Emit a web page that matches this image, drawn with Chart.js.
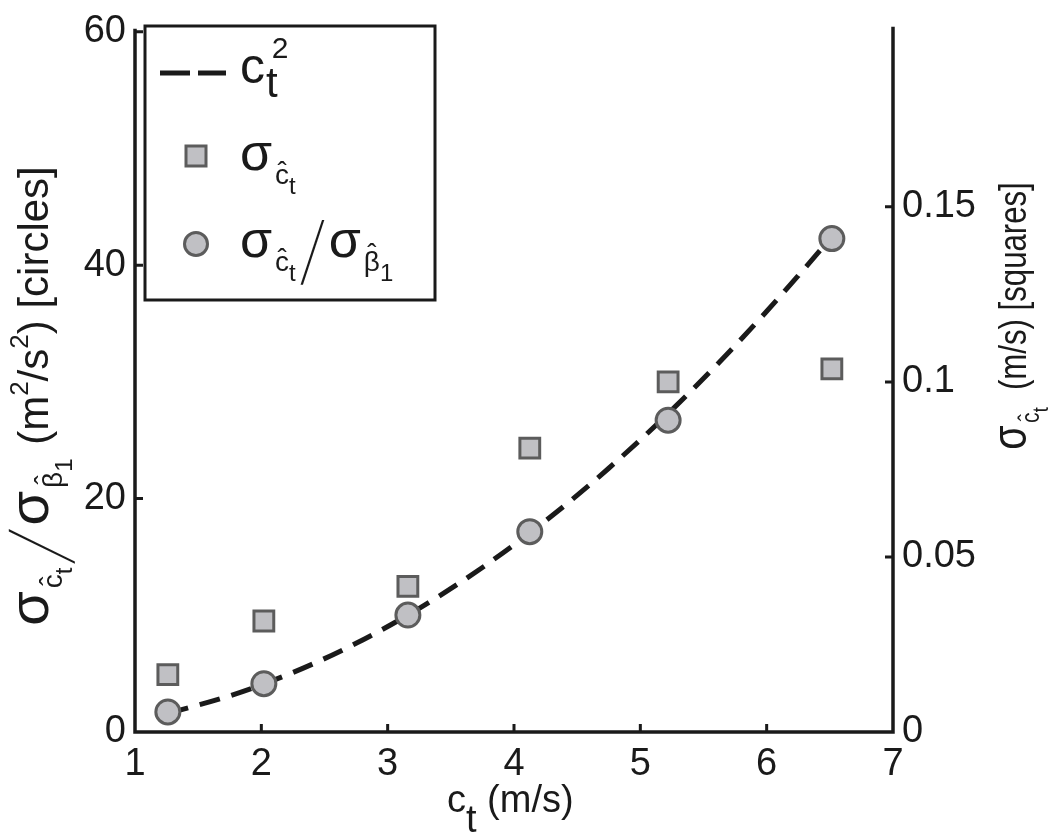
<!DOCTYPE html>
<html>
<head>
<meta charset="utf-8">
<script src="https://cdn.jsdelivr.net/npm/chart.js@4/dist/chart.umd.min.js"></script>
<style>
  html, body { margin: 0; padding: 0; background: #fff; }
  #c { display: block; }
</style>
</head>
<body>
<canvas id="c" width="1050" height="833"></canvas>
<script>
// measured points (c_t in m/s)
const ctVals = [1.26, 2.02, 3.16, 4.125, 5.22, 6.516];
const ratioVals = [1.72, 4.14, 10.02, 17.17, 26.72, 42.28];   // circles, left axis
const sigmaVals = [0.0164, 0.0317, 0.0416, 0.0811, 0.1000, 0.1037]; // squares, right axis

// dashed c_t^2 curve
const curveX = [1.26, 1.75, 2.25, 2.75, 3.25, 3.75, 4.25, 4.75, 5.25, 5.75, 6.25, 6.52];
const curveY = [1.6, 3.1, 5.1, 7.6, 10.6, 14.1, 18.1, 22.6, 27.6, 33.1, 39.1, 42.5];

const xTicks = [1, 2, 3, 4, 5, 6, 7];
const leftTicks = [0, 20, 40, 60];
const rightTicks = [0, 0.05, 0.1, 0.15];
const rightTickLabels = ['0', '0.05', '0.1', '0.15'];

const INK = '#1a1a1a';
const MARK_FILL = '#c0c0c4';
const MARK_EDGE = '#5c5c5c';
const FAM = '"Liberation Sans", Arial, Helvetica, sans-serif';

function pts(xs, ys) { return xs.map((x, i) => ({ x: x, y: ys[i] })); }

// text with sub/superscripts and hats
function fontOf(s) { return s.size + 'px ' + FAM; }
function segWidth(ctx, s) {
  if (s.adv) return s.adv;
  ctx.font = fontOf(s);
  return ctx.measureText(s.t).width;
}
function richWidth(ctx, segs) {
  let w = 0;
  segs.forEach(s => { w += (s.dx || 0) + segWidth(ctx, s); });
  return w;
}
function drawRich(ctx, segs, x, y) {
  ctx.textBaseline = 'alphabetic';
  ctx.textAlign = 'left';
  ctx.fillStyle = INK;
  let cx = x;
  segs.forEach(s => {
    ctx.font = fontOf(s);
    cx += s.dx || 0;
    const w = segWidth(ctx, s);
    const by = y + (s.dy || 0);
    if (s.sy) {
      // tall thin slash
      ctx.save();
      ctx.translate(cx, by);
      ctx.transform(1, 0, s.shear || 0, s.sy, 0, 0);
      ctx.fillText(s.t, 0, 0);
      ctx.restore();
    } else {
      ctx.fillText(s.t, cx, by);
    }
    if (s.hat) {
      ctx.textAlign = 'center';
      ctx.fillText('\u02C6', cx + w / 2, by - s.size * (s.hatUp || 0.12));
      ctx.textAlign = 'left';
    }
    cx += w;
  });
}
function sigmaHat(big, sub, subsub, letter, idx) {
  return [
    { t: '\u03C3', size: big },
    { t: letter, size: sub, dy: sub * 0.5, dx: 3, hat: true, hatUp: letter === '\u03B2' ? 0.3 : 0.1 },
    { t: idx, size: subsub, dy: sub * 0.85 }
  ];
}

const axesPlugin = {
  id: 'axesPlugin',
  beforeDatasetsDraw(chart) {
    const ctx = chart.ctx;
    const a = chart.chartArea;
    const sx = chart.scales.x, yl = chart.scales.y, yr = chart.scales.y2;
    ctx.save();
    ctx.strokeStyle = INK;
    ctx.lineWidth = 3.5;
    ctx.lineCap = 'butt';
    ctx.beginPath();
    ctx.moveTo(a.left, a.top - 3);
    ctx.lineTo(a.left, a.bottom);
    ctx.lineTo(a.right, a.bottom);
    ctx.lineTo(a.right, a.top - 5);
    ctx.stroke();
    const tl = 8;
    ctx.lineWidth = 3;
    ctx.beginPath();
    xTicks.slice(1, -1).forEach(v => {
      const px = sx.getPixelForValue(v);
      ctx.moveTo(px, a.bottom); ctx.lineTo(px, a.bottom - tl);
    });
    leftTicks.slice(1).forEach(v => {
      const py = yl.getPixelForValue(v);
      ctx.moveTo(a.left, py); ctx.lineTo(a.left + tl, py);
    });
    rightTicks.slice(1).forEach(v => {
      const py = yr.getPixelForValue(v);
      ctx.moveTo(a.right, py); ctx.lineTo(a.right - tl, py);
    });
    ctx.stroke();
    ctx.restore();
  },
  afterDraw(chart) {
    const ctx = chart.ctx;
    ctx.save();

    // legend box
    ctx.strokeStyle = INK;
    ctx.lineWidth = 3;
    ctx.strokeRect(145, 26, 290, 274);

    ctx.lineWidth = 5;
    ctx.setLineDash([30, 8]);
    ctx.beginPath();
    ctx.moveTo(160, 73); ctx.lineTo(226, 73);
    ctx.stroke();
    ctx.setLineDash([]);

    ctx.fillStyle = MARK_FILL;
    ctx.strokeStyle = MARK_EDGE;
    ctx.lineWidth = 3;
    ctx.fillRect(186, 146, 20, 20);
    ctx.strokeRect(186, 146, 20, 20);
    ctx.beginPath();
    ctx.arc(196, 244, 11.5, 0, Math.PI * 2);
    ctx.fill(); ctx.stroke();

    drawRich(ctx, [
      { t: 'c', size: 50 },
      { t: 't', size: 42, dy: 14, dx: 1 },
      { t: '2', size: 30, dy: -25, dx: -6 }
    ], 240, 83);
    drawRich(ctx, sigmaHat(52, 28, 24, 'c', 't'), 240, 170);
    drawRich(ctx, sigmaHat(52, 28, 24, 'c', 't').concat(
      [{ t: '/', size: 30, sy: 2.95, shear: -0.7, adv: 28, dy: 27, dx: 5 }],
      sigmaHat(52, 28, 24, '\u03B2', '1')
    ), 240, 257);

    // x title
    drawRich(ctx, [
      { t: 'c', size: 38 },
      { t: 't', size: 38, dy: 20 },
      { t: ' (m/s)', size: 38 }
    ], 447, 812);

    // left title
    const leftSegs = sigmaHat(56, 28, 24, 'c', 't').concat(
      [{ t: '/', size: 30, sy: 3.0, shear: -1.2, adv: 38, dy: 26, dx: 4 }],
      sigmaHat(56, 28, 24, '\u03B2', '1'),
      [
        { t: ' (m', size: 42, dx: 2 },
        { t: '2', size: 26, dy: -20 },
        { t: '/s', size: 42 },
        { t: '2', size: 26, dy: -20 },
        { t: ') [circles]', size: 42 }
      ]
    );
    let w = richWidth(ctx, leftSegs);
    ctx.save();
    ctx.translate(48, 396);
    ctx.rotate(-Math.PI / 2);
    drawRich(ctx, leftSegs, -w / 2, 0);
    ctx.restore();

    // right title
    const rightSegs = [
      { t: '\u03C3', size: 48 },
      { t: 'c', size: 26, dy: 13, dx: 3, hat: true, hatUp: 0.1 },
      { t: 't', size: 22, dy: 22 },
      { t: '  (m/s) [squares]', size: 38 }
    ];
    w = richWidth(ctx, rightSegs);
    ctx.save();
    ctx.translate(1026, 316);
    ctx.rotate(-Math.PI / 2);
    ctx.scale(0.82, 1);
    drawRich(ctx, rightSegs, -w / 2, 0);
    ctx.restore();

    ctx.restore();
  }
};

const tickFont = { family: FAM, size: 38 };

new Chart(document.getElementById('c'), {
  type: 'scatter',
  data: {
    datasets: [
      {
        label: 'c_t^2',
        type: 'line',
        data: pts(curveX, curveY),
        yAxisID: 'y',
        borderColor: INK,
        borderWidth: 5,
        borderDash: [21, 12],
        pointRadius: 0,
        fill: false,
        cubicInterpolationMode: 'monotone',
        order: 3
      },
      {
        label: 'sigma_ct',
        data: pts(ctVals, sigmaVals),
        yAxisID: 'y2',
        pointStyle: 'rect',
        pointRadius: 14,
        borderWidth: 3,
        backgroundColor: MARK_FILL,
        borderColor: MARK_EDGE,
        order: 2
      },
      {
        label: 'sigma_ct / sigma_b1',
        data: pts(ctVals, ratioVals),
        yAxisID: 'y',
        pointStyle: 'circle',
        pointRadius: 12,
        borderWidth: 3,
        backgroundColor: MARK_FILL,
        borderColor: MARK_EDGE,
        order: 1
      }
    ]
  },
  options: {
    responsive: false,
    animation: false,
    devicePixelRatio: 1,
    clip: false,
    layout: { padding: { top: 15, left: 0, right: 0, bottom: 0 } },
    plugins: { legend: { display: false }, tooltip: { enabled: false } },
    scales: {
      x: {
        type: 'linear', position: 'bottom', min: 1, max: 7,
        afterBuildTicks: s => { s.ticks = xTicks.map(v => ({ value: v })); },
        afterFit: s => { s.height = 101; },
        grid: { display: false, drawTicks: false },
        border: { display: false },
        ticks: { font: tickFont, color: INK, padding: 10, maxRotation: 0, callback: v => String(v) }
      },
      y: {
        type: 'linear', position: 'left', min: 0, max: 60,
        afterBuildTicks: s => { s.ticks = leftTicks.map(v => ({ value: v })); },
        afterFit: s => { s.width = 135; },
        grid: { display: false, drawTicks: false },
        border: { display: false },
        ticks: { font: tickFont, color: INK, padding: 9, callback: v => String(v) }
      },
      y2: {
        type: 'linear', position: 'right', min: 0, max: 0.2,
        afterBuildTicks: s => { s.ticks = rightTicks.map(v => ({ value: v })); },
        afterFit: s => { s.width = 157; },
        grid: { display: false, drawTicks: false },
        border: { display: false },
        ticks: {
          font: tickFont, color: INK, padding: 9,
          callback: v => rightTickLabels[rightTicks.indexOf(v)] || ''
        }
      }
    }
  },
  plugins: [axesPlugin]
});
</script>
</body>
</html>
